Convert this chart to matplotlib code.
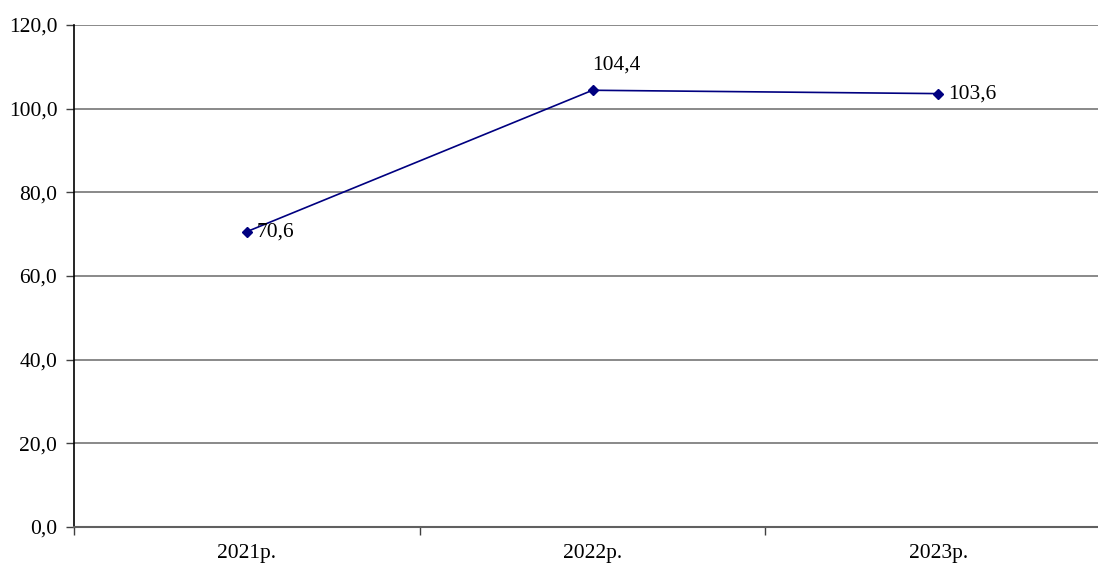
import matplotlib
matplotlib.use("Agg")
import matplotlib.pyplot as plt
from matplotlib.ticker import FixedLocator, FuncFormatter

years = ["2021р.", "2022р.", "2023р."]
values = [70.6, 104.4, 103.6]
y_ticks = [0, 20, 40, 60, 80, 100, 120]

plt.rcParams["font.family"] = ["Liberation Serif", "DejaVu Serif"]

fig = plt.figure(figsize=(10.98, 5.63), dpi=100)
W, H = 1098, 563
left_px, right_px, top_px, bottom_px = 74, 1111, 25, 527
ax = fig.add_axes([left_px / W, 1 - bottom_px / H,
                   (right_px - left_px) / W, (bottom_px - top_px) / H])

x = list(range(len(years)))
ax.plot(x, values, color="#000080", linewidth=1.2, marker="D",
        markersize=5, markerfacecolor="#000080", markeredgecolor="#000080",
        zorder=3, clip_on=False)

# value labels
offsets = [((7, 0), "left", "center"),
           ((0, 11), "left", "bottom"),
           ((7, 0), "left", "center")]
for xi, v, (off, ha, va) in zip(x, values, offsets):
    ax.annotate(f"{v:.1f}".replace(".", ","), (xi, v), xytext=off,
                textcoords="offset points", ha=ha, va=va, fontsize=15.5,
                color="black")

ax.set_xlim(-0.5, len(years) - 0.5)
ax.set_ylim(0, 120)
ax.set_yticks(y_ticks)
ax.yaxis.set_major_formatter(FuncFormatter(lambda v, p: f"{v:.1f}".replace(".", ",")))
ax.yaxis.grid(True, color="#808080", linewidth=1.3)
ax.set_axisbelow(True)

ax.set_xticks(x)
ax.set_xticklabels(years)
ax.xaxis.set_minor_locator(FixedLocator([-0.5, 0.5, 1.5, 2.5]))
ax.tick_params(axis="x", which="major", length=0, pad=12, labelsize=15.5)
ax.tick_params(axis="x", which="minor", length=6, width=1, color="#404040",
               direction="out")
ax.tick_params(axis="y", length=6, width=1, color="#404040", labelsize=15.5,
               pad=6)

for s in ("top", "right"):
    ax.spines[s].set_visible(False)
ax.spines["left"].set_color("black")
ax.spines["left"].set_linewidth(1.2)
ax.spines["bottom"].set_color("#606060")
ax.spines["bottom"].set_linewidth(1.5)

fig.savefig("out.png", dpi=100)
